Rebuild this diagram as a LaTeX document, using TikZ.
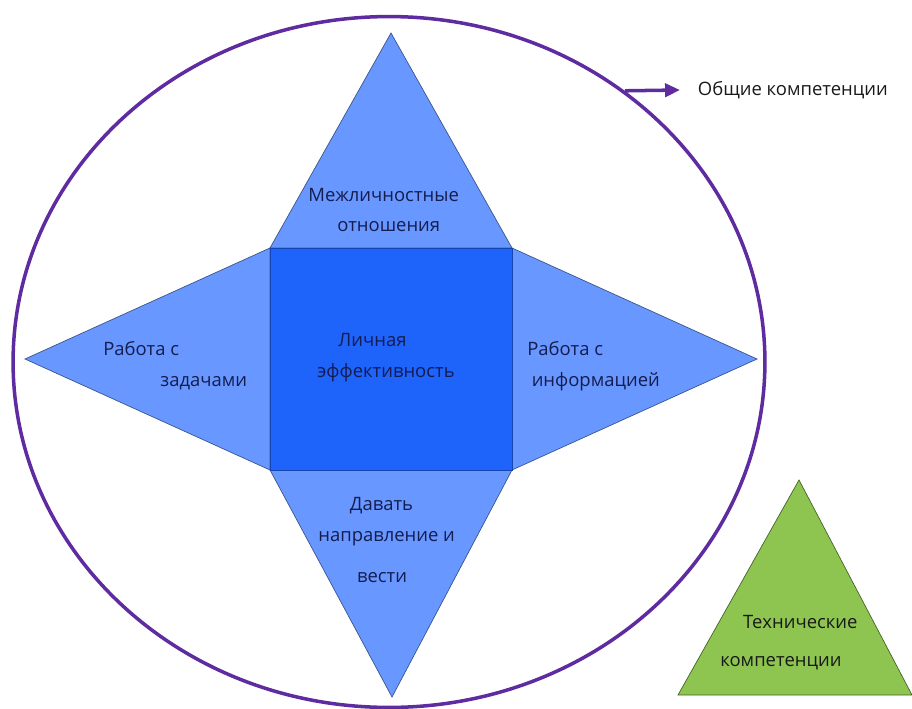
\documentclass[tikz,border=0pt]{standalone}
\usepackage{fontspec}
\setmainfont{Open Sans}
\usetikzlibrary{arrows.meta,shapes.geometric}
\definecolor{petalblue}{RGB}{104,152,255}
\definecolor{coreblue}{RGB}{30,100,250}
\definecolor{ringpurple}{RGB}{94,44,160}
\definecolor{techgreen}{RGB}{141,197,80}
\definecolor{labelnavy}{RGB}{20,28,80}
\tikzstyle{petal} = [draw=petalblue!55!black, line width=0.4pt, fill=petalblue]
\tikzstyle{lbl} = [align=left, inner sep=0, anchor=west, text=labelnavy, font=\fontsize{10.5}{17.5}\selectfont]

\begin{document}
\begin{tikzpicture}[x=0.02cm, y=-0.02cm,
			core/.style = {draw=coreblue!70!black, line width=0.4pt, fill=coreblue},
			ring/.style = {draw=ringpurple, line width=2pt, ellipse, minimum width=15.04cm, minimum height=13.82cm, inner sep=0},
			tech/.style = {draw=techgreen!50!black, line width=0.4pt, fill=techgreen},
			pointer/.style = {draw=ringpurple, line width=2pt, -{Triangle[length=8.5pt,width=7.5pt]}}]
			\useasboundingbox (0,0) rectangle (912,709);
			\node (ring)[ring] at (389,362) {};
			
			% square corners and star tips
			\coordinate (nw) at (270,248);
			\coordinate (ne) at (512,248);
			\coordinate (se) at (512,470);
			\coordinate (sw) at (270,470);
			\coordinate (n) at (391,33);
			\coordinate (w) at (25,359);
			\coordinate (e) at (757,359);
			\coordinate (s) at (392,697);
			
			\draw[petal] (nw) -- (n) -- (ne) -- cycle;
			\draw[petal] (nw) -- (w) -- (sw) -- cycle;
			\draw[petal] (ne) -- (e) -- (se) -- cycle;
			\draw[petal] (sw) -- (s) -- (se) -- cycle;
			\draw[core] (nw) rectangle (se);
			\draw[tech] (678,695) -- (799,480) -- (912,695) -- cycle;
			
			\node (top)[lbl] at (308,210) {Межличностные\\\hspace*{16.5pt}отношения};
			\node (left)[lbl] at (103,366) {Работа с\\\hspace*{32.5pt}задачами};
			\node (mid)[lbl] at (317,358) {\hspace*{12pt}Личная\\эффективность};
			\node (right)[lbl] at (527,366) {Работа с\\\hspace*{2.5pt}информацией};
			\node (bottom)[lbl] at (318,540) {\hspace*{18pt}Давать\\направление и\\[5.5pt]\hspace*{22pt}вести};
			\node (tech)[lbl, text=black!90] at (720,643) {\hspace*{13pt}Технические\\[4pt]компетенции};
			\node (general)[lbl, text=black!90, inner xsep=10pt] at (680,90) {Общие компетенции};
			
			\coordinate (tap) at (ring.49);
			\draw[pointer] (tap) -- (general.west);
		\end{tikzpicture}
\end{document}
